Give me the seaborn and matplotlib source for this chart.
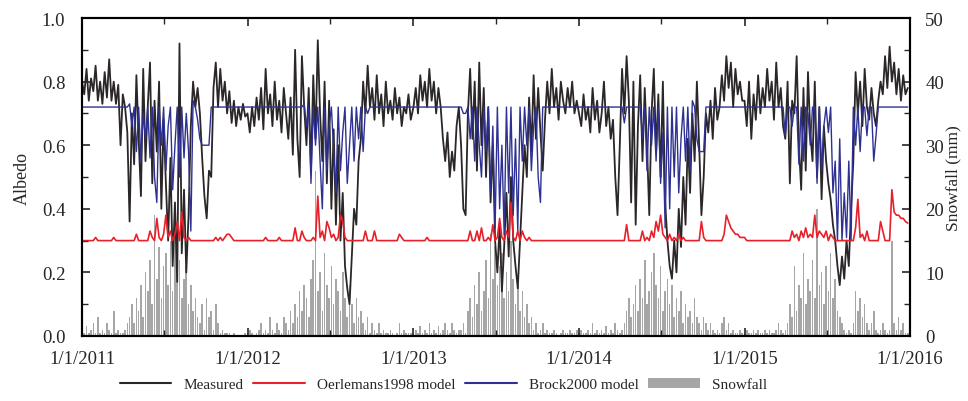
import pandas as pd
import numpy as np
import seaborn as sns
import matplotlib
matplotlib.use("Agg")
import matplotlib.pyplot as plt
import matplotlib.dates as mdates
from matplotlib.ticker import MultipleLocator, FuncFormatter
from matplotlib.lines import Line2D
from matplotlib.patches import Patch

# values every 5 days (73 points per year, day 0..360)
years = [2011, 2012, 2013, 2014, 2015]

measured_2011 = [0.80, 0.76, 0.84, 0.74, 0.81, 0.77, 0.85, 0.74, 0.80, 0.73, 0.83, 0.75, 0.87, 0.74, 0.80, 0.73, 0.79, 0.60, 0.76, 0.72,
                 0.64, 0.36, 0.70, 0.54, 0.82, 0.62, 0.44, 0.84, 0.55, 0.72, 0.86, 0.48, 0.74, 0.58, 0.80, 0.40, 0.68, 0.48, 0.30, 0.56,
                 0.22, 0.42, 0.17, 0.92, 0.26, 0.46, 0.20, 0.38, 0.66, 0.80, 0.72, 0.78, 0.70, 0.56, 0.44, 0.37, 0.52, 0.50, 0.78, 0.86,
                 0.72, 0.84, 0.74, 0.80, 0.70, 0.77, 0.67, 0.74, 0.66, 0.72, 0.68, 0.73, 0.69]
measured_2012 = [0.70, 0.64, 0.72, 0.66, 0.75, 0.68, 0.78, 0.65, 0.84, 0.70, 0.76, 0.66, 0.80, 0.68, 0.74, 0.64, 0.78, 0.70, 0.62, 0.75,
                 0.57, 0.90, 0.62, 0.50, 0.88, 0.72, 0.60, 0.78, 0.52, 0.82, 0.62, 0.93, 0.70, 0.55, 0.80, 0.48, 0.74, 0.40, 0.65, 0.35,
                 0.60, 0.30, 0.45, 0.22, 0.15, 0.10, 0.25, 0.40, 0.35, 0.55, 0.62, 0.80, 0.70, 0.85, 0.72, 0.78, 0.68, 0.82, 0.70, 0.76,
                 0.66, 0.80, 0.70, 0.74, 0.68, 0.78, 0.70, 0.75, 0.66, 0.72, 0.70, 0.76, 0.68]
measured_2013 = [0.72, 0.78, 0.70, 0.82, 0.74, 0.80, 0.72, 0.84, 0.74, 0.80, 0.70, 0.78, 0.72, 0.62, 0.55, 0.64, 0.50, 0.58, 0.52, 0.66,
                 0.72, 0.60, 0.40, 0.38, 0.70, 0.84, 0.62, 0.80, 0.52, 0.86, 0.60, 0.78, 0.50, 0.72, 0.42, 0.60, 0.30, 0.20, 0.35, 0.14,
                 0.28, 0.45, 0.25, 0.50, 0.30, 0.22, 0.15, 0.30, 0.45, 0.60, 0.50, 0.75, 0.58, 0.82, 0.62, 0.78, 0.64, 0.52, 0.68, 0.80,
                 0.70, 0.84, 0.72, 0.78, 0.68, 0.80, 0.74, 0.70, 0.78, 0.72, 0.80, 0.70, 0.74]
measured_2014 = [0.70, 0.66, 0.76, 0.68, 0.72, 0.64, 0.78, 0.68, 0.74, 0.64, 0.70, 0.80, 0.66, 0.72, 0.62, 0.68, 0.50, 0.38, 0.60, 0.84,
                 0.70, 0.88, 0.74, 0.42, 0.80, 0.35, 0.66, 0.82, 0.55, 0.78, 0.60, 0.38, 0.70, 0.84, 0.58, 0.76, 0.50, 0.80, 0.42, 0.30,
                 0.22, 0.18, 0.30, 0.20, 0.40, 0.28, 0.50, 0.35, 0.62, 0.45, 0.70, 0.55, 0.80, 0.60, 0.38, 0.50, 0.70, 0.64, 0.74, 0.62,
                 0.78, 0.68, 0.72, 0.82, 0.74, 0.88, 0.78, 0.86, 0.72, 0.84, 0.76, 0.80, 0.74]
measured_2015 = [0.74, 0.66, 0.80, 0.62, 0.76, 0.68, 0.82, 0.70, 0.78, 0.72, 0.84, 0.74, 0.80, 0.68, 0.86, 0.72, 0.78, 0.66, 0.62, 0.80,
                 0.48, 0.74, 0.70, 0.88, 0.60, 0.46, 0.78, 0.52, 0.83, 0.64, 0.55, 0.80, 0.50, 0.72, 0.43, 0.66, 0.55, 0.48, 0.43, 0.35,
                 0.30, 0.22, 0.16, 0.25, 0.18, 0.30, 0.22, 0.40, 0.55, 0.83, 0.70, 0.80, 0.66, 0.84, 0.72, 0.68, 0.78, 0.70, 0.66, 0.74,
                 0.80, 0.76, 0.88, 0.78, 0.91, 0.80, 0.86, 0.76, 0.84, 0.74, 0.82, 0.76, 0.78]

brock_2011 = [0.72, 0.72, 0.72, 0.72, 0.72, 0.72, 0.72, 0.72, 0.72, 0.72, 0.72, 0.72, 0.72, 0.72, 0.72, 0.72, 0.72, 0.72, 0.72, 0.72,
              0.72, 0.73, 0.66, 0.72, 0.58, 0.72, 0.55, 0.70, 0.62, 0.72, 0.56, 0.72, 0.50, 0.42, 0.72, 0.60, 0.72, 0.52, 0.66, 0.72,
              0.46, 0.60, 0.72, 0.50, 0.72, 0.56, 0.70, 0.58, 0.33, 0.74, 0.72, 0.68, 0.62, 0.60, 0.60, 0.60, 0.60, 0.72, 0.72, 0.72,
              0.72, 0.72, 0.72, 0.72, 0.72, 0.72, 0.72, 0.72, 0.72, 0.72, 0.72, 0.72, 0.72]
brock_2012 = [0.72, 0.72, 0.72, 0.72, 0.72, 0.72, 0.72, 0.72, 0.72, 0.72, 0.72, 0.72, 0.72, 0.72, 0.72, 0.72, 0.72, 0.72, 0.72, 0.72,
              0.72, 0.72, 0.72, 0.72, 0.72, 0.73, 0.66, 0.72, 0.48, 0.72, 0.60, 0.72, 0.55, 0.40, 0.72, 0.52, 0.66, 0.72, 0.58, 0.45,
              0.72, 0.52, 0.64, 0.72, 0.48, 0.60, 0.72, 0.55, 0.72, 0.62, 0.72, 0.58, 0.72, 0.70, 0.72, 0.72, 0.72, 0.72, 0.72, 0.72,
              0.72, 0.72, 0.72, 0.72, 0.72, 0.72, 0.72, 0.72, 0.72, 0.72, 0.72, 0.72, 0.72]
brock_2013 = [0.72, 0.72, 0.72, 0.72, 0.72, 0.72, 0.72, 0.72, 0.72, 0.72, 0.72, 0.72, 0.72, 0.72, 0.72, 0.72, 0.72, 0.72, 0.72, 0.72,
              0.72, 0.72, 0.70, 0.70, 0.72, 0.62, 0.72, 0.55, 0.72, 0.60, 0.50, 0.72, 0.58, 0.72, 0.45, 0.66, 0.34, 0.72, 0.40, 0.60,
              0.32, 0.72, 0.45, 0.72, 0.38, 0.62, 0.33, 0.72, 0.55, 0.72, 0.60, 0.72, 0.52, 0.66, 0.72, 0.50, 0.42, 0.72, 0.72, 0.72,
              0.72, 0.72, 0.72, 0.72, 0.72, 0.72, 0.72, 0.72, 0.72, 0.72, 0.72, 0.72, 0.72]
brock_2014 = [0.72, 0.72, 0.72, 0.72, 0.72, 0.72, 0.72, 0.72, 0.72, 0.72, 0.72, 0.72, 0.72, 0.72, 0.72, 0.72, 0.72, 0.72, 0.72, 0.72,
              0.67, 0.72, 0.72, 0.72, 0.72, 0.72, 0.72, 0.72, 0.62, 0.72, 0.52, 0.72, 0.60, 0.72, 0.55, 0.72, 0.48, 0.64, 0.34, 0.72,
              0.40, 0.72, 0.50, 0.72, 0.45, 0.62, 0.72, 0.55, 0.72, 0.52, 0.74, 0.72, 0.62, 0.58, 0.58, 0.58, 0.72, 0.72, 0.72, 0.72,
              0.72, 0.72, 0.72, 0.72, 0.72, 0.72, 0.72, 0.72, 0.72, 0.72, 0.72, 0.72, 0.72]
brock_2015 = [0.72, 0.72, 0.72, 0.72, 0.72, 0.72, 0.72, 0.72, 0.72, 0.72, 0.72, 0.72, 0.72, 0.72, 0.72, 0.72, 0.72, 0.72, 0.63, 0.72,
              0.72, 0.66, 0.72, 0.72, 0.54, 0.72, 0.55, 0.72, 0.70, 0.60, 0.72, 0.72, 0.48, 0.72, 0.52, 0.66, 0.72, 0.64, 0.72, 0.45,
              0.55, 0.30, 0.62, 0.30, 0.45, 0.31, 0.55, 0.30, 0.72, 0.60, 0.72, 0.58, 0.72, 0.72, 0.63, 0.72, 0.72, 0.55, 0.63, 0.72,
              0.72, 0.72, 0.72, 0.72, 0.72, 0.72, 0.72, 0.72, 0.72, 0.72, 0.72, 0.72, 0.72]

oerlemans_2011 = [0.30, 0.30, 0.30, 0.30, 0.30, 0.30, 0.31, 0.30, 0.30, 0.30, 0.30, 0.30, 0.30, 0.30, 0.31, 0.30, 0.30, 0.30, 0.30, 0.30,
                  0.30, 0.30, 0.30, 0.30, 0.32, 0.30, 0.30, 0.30, 0.30, 0.30, 0.33, 0.31, 0.30, 0.37, 0.31, 0.30, 0.32, 0.38, 0.31, 0.33,
                  0.30, 0.32, 0.36, 0.30, 0.39, 0.31, 0.30, 0.31, 0.30, 0.30, 0.30, 0.30, 0.30, 0.30, 0.30, 0.30, 0.30, 0.30, 0.30, 0.31,
                  0.30, 0.31, 0.30, 0.31, 0.32, 0.32, 0.31, 0.30, 0.30, 0.30, 0.30, 0.30, 0.30]
oerlemans_2012 = [0.30, 0.30, 0.30, 0.30, 0.30, 0.30, 0.30, 0.30, 0.31, 0.30, 0.30, 0.30, 0.30, 0.30, 0.31, 0.30, 0.30, 0.30, 0.30, 0.30,
                  0.30, 0.34, 0.30, 0.30, 0.33, 0.31, 0.30, 0.30, 0.30, 0.31, 0.30, 0.44, 0.31, 0.33, 0.30, 0.36, 0.34, 0.31, 0.32, 0.30,
                  0.31, 0.38, 0.36, 0.31, 0.30, 0.30, 0.30, 0.30, 0.30, 0.30, 0.30, 0.30, 0.33, 0.30, 0.30, 0.30, 0.33, 0.30, 0.30, 0.30,
                  0.30, 0.30, 0.30, 0.30, 0.30, 0.30, 0.30, 0.32, 0.31, 0.30, 0.30, 0.30, 0.30]
oerlemans_2013 = [0.30, 0.30, 0.30, 0.30, 0.30, 0.30, 0.31, 0.30, 0.30, 0.30, 0.30, 0.30, 0.30, 0.30, 0.30, 0.30, 0.30, 0.30, 0.30, 0.30,
                  0.30, 0.30, 0.30, 0.30, 0.30, 0.33, 0.30, 0.30, 0.33, 0.30, 0.34, 0.30, 0.30, 0.31, 0.30, 0.35, 0.30, 0.31, 0.37, 0.31,
                  0.30, 0.33, 0.31, 0.42, 0.31, 0.30, 0.33, 0.30, 0.33, 0.31, 0.30, 0.31, 0.30, 0.30, 0.30, 0.30, 0.30, 0.30, 0.30, 0.30,
                  0.30, 0.30, 0.30, 0.30, 0.30, 0.30, 0.30, 0.30, 0.30, 0.30, 0.30, 0.30, 0.30]
oerlemans_2014 = [0.30, 0.30, 0.30, 0.30, 0.30, 0.30, 0.30, 0.30, 0.30, 0.30, 0.30, 0.30, 0.30, 0.30, 0.30, 0.30, 0.30, 0.30, 0.30, 0.30,
                  0.30, 0.35, 0.30, 0.30, 0.30, 0.30, 0.30, 0.30, 0.33, 0.30, 0.31, 0.30, 0.33, 0.31, 0.36, 0.33, 0.38, 0.32, 0.31, 0.30,
                  0.32, 0.30, 0.31, 0.30, 0.32, 0.30, 0.31, 0.30, 0.30, 0.30, 0.30, 0.30, 0.30, 0.30, 0.36, 0.31, 0.30, 0.30, 0.30, 0.30,
                  0.30, 0.30, 0.30, 0.30, 0.32, 0.38, 0.36, 0.34, 0.33, 0.32, 0.32, 0.31, 0.31]
oerlemans_2015 = [0.31, 0.30, 0.30, 0.30, 0.30, 0.30, 0.30, 0.30, 0.30, 0.30, 0.30, 0.30, 0.30, 0.30, 0.30, 0.30, 0.30, 0.30, 0.30, 0.30,
                  0.30, 0.33, 0.31, 0.32, 0.30, 0.33, 0.31, 0.34, 0.31, 0.32, 0.31, 0.38, 0.31, 0.33, 0.32, 0.31, 0.33, 0.30, 0.32, 0.31,
                  0.30, 0.30, 0.30, 0.30, 0.30, 0.30, 0.30, 0.30, 0.30, 0.34, 0.43, 0.31, 0.32, 0.30, 0.33, 0.30, 0.30, 0.30, 0.30, 0.30,
                  0.36, 0.33, 0.30, 0.30, 0.30, 0.46, 0.39, 0.38, 0.38, 0.37, 0.37, 0.36, 0.355]

snow_2011 = [1, 0.5, 1.5, 0.5, 1, 2, 0.5, 3, 0.5, 1, 0.5, 2, 1, 0.5, 4, 0.5, 1, 0.5, 0.5, 1,
             2, 3, 5, 2, 6, 4, 8, 3, 10, 7, 12, 5, 19, 9, 14, 6, 11, 13, 8, 15,
             7, 17, 10, 12, 6, 9, 11, 5, 8, 4, 6, 3, 2, 5, 1, 6, 3, 4, 1, 5,
             2, 0.5, 1, 0.5, 0.5, 0.5, 0, 0.5, 0, 0, 0, 0, 0.5]
snow_2012 = [0.5, 1, 0.5, 0, 0.5, 1, 2, 0.5, 1, 0.5, 3, 1, 0.5, 2, 1, 0.5, 3, 2, 1, 4,
             2, 5, 3, 7, 4, 8, 6, 3, 9, 12, 26, 7, 10, 4, 13, 8, 6, 11, 5, 9,
             7, 4, 10, 6, 3, 8, 5, 2, 6, 3, 4, 2, 1, 3, 0.5, 2, 1, 0.5, 2, 0.5,
             1, 0.5, 0.5, 1, 0.5, 0, 0.5, 2, 0.5, 1, 0.5, 0.5, 0.5]
snow_2013 = [0.5, 1, 0.5, 1.5, 0.5, 1, 0.5, 2, 0.5, 1, 0.5, 1.5, 0.5, 1, 2, 1, 0.5, 2, 1, 0.5,
             1, 1, 2, 0.5, 4, 6, 3, 8, 5, 10, 4, 7, 12, 6, 16, 9, 14, 8, 11, 13,
             6, 10, 7, 15, 9, 5, 8, 4, 7, 3, 5, 2, 3, 1, 2, 0.5, 1, 2, 0.5, 1,
             0.5, 0.5, 1, 0.5, 0, 0.5, 1, 0.5, 0.5, 1, 0.5, 0.5, 1]
snow_2014 = [0.5, 1, 0.5, 0.5, 1, 0.5, 2, 0.5, 1, 0.5, 1, 0.5, 1.5, 0.5, 1, 0.5, 2, 1, 0.5, 1,
             2, 4, 6, 3, 5, 8, 4, 9, 6, 12, 5, 7, 10, 13, 8, 6, 11, 4, 7, 9,
             5, 8, 3, 6, 4, 7, 2, 5, 3, 4, 2, 6, 3, 2, 1, 3, 2, 1, 2, 1,
             0.5, 1, 0.5, 2, 3, 1, 2, 0.5, 1, 0.5, 0.5, 1, 0.5]
snow_2015 = [0.5, 1, 0.5, 0.5, 1, 0.5, 1, 0.5, 0.5, 1, 0.5, 1, 0.5, 0.5, 1, 2, 1, 0.5, 1, 2,
             5, 3, 11, 4, 8, 6, 13, 5, 9, 7, 12, 6, 20, 8, 10, 5, 11, 7, 13, 6,
             9, 4, 3, 2, 1, 0.5, 1, 0.5, 2, 7, 4, 6, 3, 5, 2, 1, 2, 4, 1, 0.5,
             1, 2, 1, 0.5, 1, 15, 2, 1, 3, 1, 2, 0.5, 0.5]

measured = measured_2011 + measured_2012 + measured_2013 + measured_2014 + measured_2015
brock = brock_2011 + brock_2012 + brock_2013 + brock_2014 + brock_2015
oerlemans = oerlemans_2011 + oerlemans_2012 + oerlemans_2013 + oerlemans_2014 + oerlemans_2015
snowfall = snow_2011 + snow_2012 + snow_2013 + snow_2014 + snow_2015

dates = pd.DatetimeIndex(np.concatenate(
    [pd.date_range(f"{y}-01-01", periods=73, freq="5D").values for y in years]))

df = pd.DataFrame({"date": dates, "Measured": measured, "Oerlemans": oerlemans,
                   "Brock": brock, "Snowfall": snowfall})

sns.set_style("ticks")
plt.rcParams["font.family"] = ["Liberation Serif", "DejaVu Serif"]
plt.rcParams["xtick.direction"] = "in"
plt.rcParams["ytick.direction"] = "in"

c_meas = "#2b2627"
c_oer = "#e8202a"
c_brock = "#2e3192"
c_snow = "#a6a6a6"

fig = plt.figure(figsize=(9.68, 4.02), dpi=100)
ax = fig.add_axes([0.0847, 0.1617, 0.8554, 0.7910])
ax2 = ax.twinx()

# snowfall bars behind the albedo lines
ax2.bar(df["date"], df["Snowfall"], width=3.5, color=c_snow, linewidth=0)
ax.set_zorder(ax2.get_zorder() + 1)
ax.patch.set_visible(False)

sns.lineplot(data=df, x="date", y="Measured", ax=ax, color=c_meas, linewidth=1.3)
sns.lineplot(data=df, x="date", y="Brock", ax=ax, color=c_brock, linewidth=1.0)
sns.lineplot(data=df, x="date", y="Oerlemans", ax=ax, color=c_oer, linewidth=1.2)

ax.set_xlim(pd.Timestamp("2011-01-01"), pd.Timestamp("2016-01-01"))
ax.set_ylim(0, 1.0)
ax2.set_ylim(0, 50)

ax.xaxis.set_major_locator(mdates.YearLocator())
ax.xaxis.set_minor_locator(mdates.MonthLocator(bymonth=7))
ax.xaxis.set_major_formatter(FuncFormatter(
    lambda v, pos: "{0}/{1}/{2}".format(mdates.num2date(v).month, mdates.num2date(v).day, mdates.num2date(v).year)))
ax.yaxis.set_major_locator(MultipleLocator(0.2))
ax.yaxis.set_minor_locator(MultipleLocator(0.1))
ax.yaxis.set_major_formatter(FuncFormatter(lambda v, pos: f"{v:.1f}"))
ax2.yaxis.set_major_locator(MultipleLocator(10))
ax2.yaxis.set_minor_locator(MultipleLocator(5))

ax.tick_params(axis="x", which="both", top=True, bottom=True, labelsize=13.5, pad=10)
ax.tick_params(axis="x", which="major", length=6, width=1.2)
ax.tick_params(axis="x", which="minor", length=4, width=1.0)
ax.tick_params(axis="y", which="both", left=True, right=False, labelsize=13.5, pad=12)
ax.tick_params(axis="y", which="major", length=6, width=1.2)
ax.tick_params(axis="y", which="minor", length=4, width=1.0)
ax2.tick_params(axis="y", which="both", labelsize=13.5, pad=11)
ax2.tick_params(axis="y", which="major", length=6, width=1.2)
ax2.tick_params(axis="y", which="minor", length=4, width=1.0)

for a in (ax, ax2):
    for s in a.spines.values():
        s.set_linewidth(1.5)
        s.set_color("black")

ax.set_xlabel("")
ax.set_ylabel("Albedo", fontsize=13, labelpad=8)
ax2.set_ylabel("Snowfall (mm)", fontsize=12.5, labelpad=1)

handles = [Line2D([], [], color=c_meas, linewidth=1.5),
           Line2D([], [], color=c_oer, linewidth=1.5),
           Line2D([], [], color=c_brock, linewidth=1.5),
           Patch(facecolor=c_snow, edgecolor="none")]
labels = ["Measured", "Oerlemans1998 model", "Brock2000 model", "Snowfall"]
fig.legend(handles, labels, loc="lower center", bbox_to_anchor=(0.458, -0.01), ncol=4,
           frameon=False, fontsize=11, handlelength=3.4, columnspacing=0.6, handletextpad=0.8)

fig.savefig("out.png", dpi=100)
